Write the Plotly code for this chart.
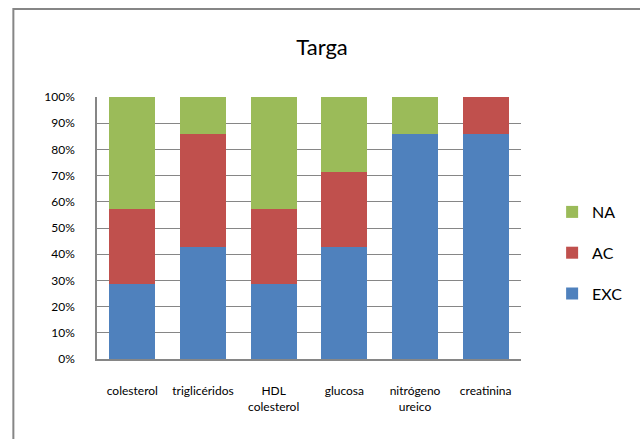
import plotly.graph_objects as go

categories = ["colesterol", "triglicéridos", "HDL<br>colesterol", "glucosa", "nitrógeno<br>ureico", "creatinina"]
exc = [2, 3, 2, 3, 6, 6]
ac = [2, 3, 2, 2, 0, 1]
na = [3, 1, 3, 2, 1, 0]
y_ticks = [0, 0.1, 0.2, 0.3, 0.4, 0.5, 0.6, 0.7, 0.8, 0.9, 1.0]

W, H = 640, 439
L, R, T, B = 97, 533, 97, 359

fig = go.Figure()
for rank, (name, vals, col) in zip([3, 2, 1], [("EXC", exc, "#4F81BD"), ("AC", ac, "#C0504D"), ("NA", na, "#9BBB59")]):
    fig.add_trace(go.Bar(x=categories, y=vals, name=name, marker_color=col,
                         marker_line_width=0, legendgroup=name, legendrank=rank))

pw, ph = R - L, B - T
def px_x(p): return (p - L) / pw
def px_y(p): return (B - p) / ph

fig.update_layout(
    width=W, height=H,
    margin=dict(l=L, r=W - R, t=T, b=H - B, pad=0),
    barmode="stack", barnorm="fraction", bargap=0.35,
    paper_bgcolor="white", plot_bgcolor="white",
    font=dict(family="Lato, Calibri, sans-serif", color="#000000"),
    title=dict(text="Targa", x=(322) / W, xanchor="center", y=1 - 47 / H, yanchor="middle",
               yref="container", xref="container", font=dict(size=22)),
    legend=dict(x=px_x(565), xanchor="left", y=px_y(253), yanchor="middle",
                traceorder="grouped", tracegroupgap=17, font=dict(size=16),
                bgcolor="rgba(0,0,0,0)"),
    showlegend=True,
    shapes=[dict(type="rect", xref="paper", yref="paper",
                 x0=px_x(11), x1=px_x(660), y0=px_y(460), y1=px_y(9),
                 line=dict(color="#868686", width=2), fillcolor="rgba(0,0,0,0)", layer="below")],
)
fig.update_xaxes(showgrid=False, showline=True, linecolor="#868686", linewidth=1.5,
                 tickfont=dict(size=12), ticks="", ticklabelstandoff=20)
fig.update_yaxes(range=[0, 1], tickvals=y_ticks, tickformat=".0%", showgrid=True,
                 gridcolor="#868686", gridwidth=1, showline=True, linecolor="#868686",
                 linewidth=1.5, zeroline=False, tickfont=dict(size=12), ticks="",
                 ticklabelstandoff=18)

fig.write_html("out.html", config={"displayModeBar": False},
               post_script="document.body.style.margin='0';")
